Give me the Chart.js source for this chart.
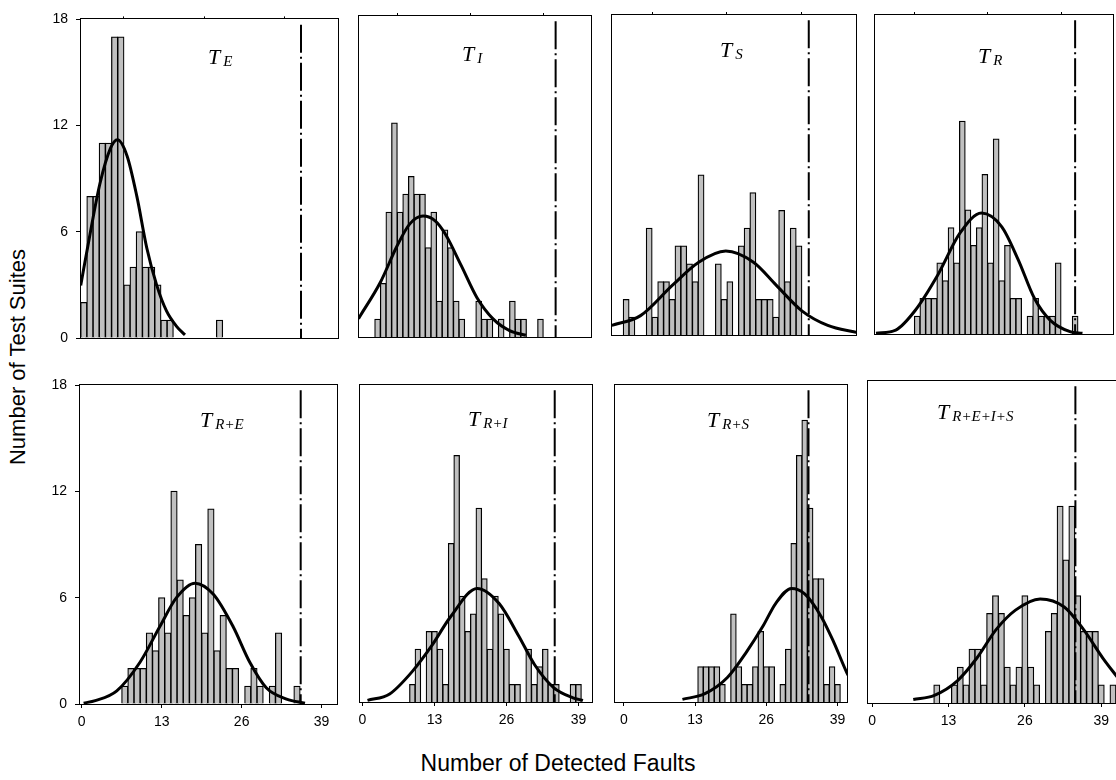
<!DOCTYPE html>
<html lang="en">
<head>
<meta charset="utf-8">
<title>Detected faults per test suite</title>
<script src="https://cdn.jsdelivr.net/npm/chart.js@4.4.1/dist/chart.umd.min.js"></script>
<style>
  html, body { margin: 0; padding: 0; background: #fff; }
  #figure {
    position: relative; width: 1116px; height: 780px; overflow: hidden;
    font-family: Arial, "Liberation Sans", Helvetica, sans-serif; color: #000;
  }
  #figure canvas { position: absolute; }
  .tag {
    position: absolute; white-space: nowrap; line-height: 1;
    font-family: "Liberation Serif", "Times New Roman", serif;
    font-style: italic; font-size: 22px;
  }
  .tag span { font-size: 15px; position: relative; top: 2px; margin-left: 3px; }
  .axis-title { position: absolute; white-space: nowrap; line-height: 1; }
  #ytitle { left: 18px; top: 357px; font-size: 22px; transform: translate(-50%, -50%) rotate(-90deg); }
  #xtitle { left: 558px; top: 763px; font-size: 23px; transform: translate(-50%, -50%); }
</style>
</head>
<body>
<div id="figure">
  <div class="axis-title" id="ytitle">Number of Test Suites</div>
  <div class="axis-title" id="xtitle">Number of Detected Faults</div>
</div>

<script>
/* ─── Data ───────────────────────────────────────────────────────────────── */
const suiteNames = ['E', 'I', 'S', 'R', 'R+E', 'R+I', 'R+S', 'R+E+I+S'];

// fault count of the first bin in each histogram, bins step by one fault
const firstBin = [0, 3, 2, 7, 7, 9, 14, 11];

const countsE    = [2, 8, 8, 11, 11, 17, 17, 3, 4, 6, 4, 4, 3, 1, 1, 0, 0, 0, 0, 0, 0, 0, 1];
const countsI    = [1, 3, 7, 12, 7, 8, 9, 8, 8, 5, 7, 2, 6, 5, 2, 1, 0, 0, 2, 1, 1, 0, 1, 0, 2, 1, 1, 0, 0, 1];
const countsS    = [2, 1, 0, 0, 6, 1, 3, 3, 2, 5, 5, 4, 3, 9, 0, 0, 4, 2, 3, 0, 5, 6, 8, 2, 2, 2, 1, 7, 3, 6, 5];
const countsR    = [1, 2, 2, 2, 4, 3, 6, 4, 12, 7, 5, 6, 9, 4, 11, 3, 5, 2, 2, 0, 1, 2, 1, 1, 1, 4, 0, 0, 1];
const countsRE   = [1, 2, 2, 2, 4, 3, 6, 4, 12, 7, 5, 6, 9, 4, 11, 3, 5, 2, 2, 0, 1, 2, 1, 0, 1, 4, 0, 0, 1];
const countsRI   = [1, 3, 0, 4, 4, 3, 1, 9, 14, 6, 4, 5, 11, 7, 3, 6, 5, 3, 1, 1, 0, 3, 1, 2, 3, 1, 1, 0, 0, 1, 1];
const countsRS   = [2, 2, 2, 2, 1, 0, 5, 2, 1, 1, 2, 4, 2, 2, 0, 1, 3, 9, 14, 16, 11, 7, 7, 1, 2, 1];
const countsREIS = [1, 0, 0, 1, 2, 1, 3, 3, 1, 5, 6, 5, 2, 1, 2, 6, 2, 1, 0, 4, 5, 11, 8, 11, 6, 4, 4, 4, 1, 0, 1];
const histCounts = [countsE, countsI, countsS, countsR, countsRE, countsRI, countsRS, countsREIS];

// normal curves, [faults, suites] points
const curveE    = [[-0.5, 2.97], [1.0, 5.85], [2.6, 8.7], [4.3, 10.7], [5.45, 11.2], [7.0, 10.3], [8.6, 8.0],
                   [10.2, 5.1], [11.8, 3.0], [13.4, 1.53], [15.1, 0.63], [16.4, 0.18]];
const curveI    = [[-0.4, 1.03], [3.5, 3.07], [6.4, 5.06], [8.7, 6.33], [11.1, 6.78], [13.3, 6.5], [15.0, 5.8],
                   [17.9, 4.0], [20.7, 2.2], [23.6, 1.0], [26.5, 0.36], [29.4, 0.1]];
const curveS    = [[-0.5, 0.54], [4.5, 1.09], [10.1, 2.82], [14.6, 4.09], [19.3, 4.72], [24.1, 4.09], [28.0, 2.82],
                   [32.5, 1.36], [37.0, 0.54], [41.5, 0.18], [42.5, 0.12]];
const curveR    = [[-0.3, 0.04], [3.2, 0.22], [6.6, 1.31], [10.6, 3.3], [14.6, 5.7], [18.4, 6.83], [22.0, 6.05],
                   [24.9, 4.2], [27.8, 2.0], [30.6, 0.77], [34.1, 0.13], [36.3, 0.04]];
const curveRE   = [[0.3, 0.05], [2.2, 0.19], [5.7, 0.74], [9.5, 2.37], [12.7, 4.37], [15.4, 6.0], [18.4, 6.82],
                   [21.4, 6.19], [24.6, 4.37], [27.3, 2.37], [30.0, 0.92], [33.3, 0.28], [36.3, 0.05]];
const curveRI   = [[0.9, 0.09], [4.9, 0.46], [9.0, 1.74], [12.5, 3.2], [15.9, 4.84], [20.7, 6.45], [24.7, 5.58],
                   [28.2, 3.75], [31.1, 2.1], [34.5, 0.82], [38.0, 0.24], [39.8, 0.09]];
const curveRS   = [[10.7, 0.15], [14.8, 0.47], [18.9, 1.39], [22.4, 2.85], [25.4, 4.31], [27.7, 5.59], [30.6, 6.45],
                   [33.0, 6.14], [36.0, 4.86], [38.3, 3.4], [40.7, 1.66], [41.5, 1.2]];
const curveREIS = [[7.0, 0.2], [10.6, 0.43], [14.5, 1.24], [17.8, 2.5], [21.1, 4.1], [24.4, 5.19], [28.6, 5.82],
                   [32.7, 5.37], [36.0, 4.1], [39.3, 2.5], [41.8, 1.42]];
const curves = [curveE, curveI, curveS, curveR, curveRE, curveRI, curveRS, curveREIS];

// dash-dot reference line of each panel (faults), and where it starts (suites)
const cutoff    = [35.2, 34.7, 33.7, 35.0, 35.6, 34.7, 33.7, 34.6];
const cutoffTop = 17.7;

const faultTicks = [0, 13, 26, 39];
const suiteTicks = [0, 6, 12, 18];

/* ─── Panel placement (page px) ──────────────────────────────────────────── */
// box = plot frame [l, t, r, b]; x0 = pixel of 0 faults; u = px per fault; tag = T label [left, cap top]
const panels = [
  { box: [81, 15, 338, 348],   x0: 83.8,  u: 6.17, tag: [208, 50] },
  { box: [351, 16, 591, 347],  x0: 352.8, u: 5.81, tag: [462, 47] },
  { box: [604, 15, 856, 345],  x0: 606.7, u: 5.95, tag: [720, 43] },
  { box: [867, 15, 1113, 344], x0: 869.8, u: 5.83, tag: [978, 49] },
  { box: [80, 373, 337, 704],  x0: 81.75, u: 6.15, tag: [200, 413] },
  { box: [352, 373, 592, 702], x0: 354.6, u: 5.73, tag: [468, 412] },
  { box: [607, 373, 847, 702], x0: 616.1, u: 5.67, tag: [707, 413] },
  { box: [860, 369, 1120, 703], x0: 864.3, u: 6.06, tag: [937, 405] }
];

const PAD    = { l: 8, t: 12, r: 6, b: 10 };
const AXIS_W = 46;   // room for the suite labels, left column
const AXIS_H = 36;   // room for the fault labels, bottom row

Chart.defaults.font.family = 'Arial, "Liberation Sans", Helvetica, sans-serif';
Chart.defaults.color = '#000';

/* ─── Frame round each plot ──────────────────────────────────────────────── */
const framePlugin = {
  id: 'frame',
  afterDatasetsDraw(chart) {
    const { ctx, chartArea: a } = chart;
    ctx.save();
    ctx.strokeStyle = '#000';
    ctx.lineWidth = 1;
    ctx.strokeRect(Math.round(a.left) - 0.5, Math.round(a.top) - 0.5,
                   Math.round(a.right - a.left) + 1, Math.round(a.bottom - a.top) + 1);
    ctx.restore();
  }
};

/* ─── Build panels ───────────────────────────────────────────────────────── */
const fig = document.getElementById('figure');

panels.forEach((p, i) => {
  const col = i % 4;
  const row = Math.floor(i / 4);
  const [l, t, r, b] = p.box;
  const padL = col === 0 ? AXIS_W : PAD.l;
  const padB = row === 1 ? AXIS_H : PAD.b;

  const canvas = document.createElement('canvas');
  canvas.width  = r - l + padL + PAD.r;
  canvas.height = b - t + PAD.t + padB;
  canvas.style.left = (l - padL) + 'px';
  canvas.style.top  = (t - PAD.t) + 'px';
  fig.appendChild(canvas);

  const tag = document.createElement('div');
  tag.className = 'tag';
  tag.style.left = p.tag[0] + 'px';
  tag.style.top  = (p.tag[1] - 4) + 'px';
  tag.innerHTML = `T<span>${suiteNames[i]}</span>`;
  fig.appendChild(tag);

  const xMin = (l - p.x0) / p.u;
  const xMax = (r - p.x0) / p.u;
  const inRange = faultTicks.filter(v => v >= xMin && v <= xMax);
  const first = firstBin[i];

  new Chart(canvas, {
    type: 'bar',
    data: {
      datasets: [
        {
          type:        'line',
          data:        [{ x: cutoff[i], y: cutoffTop }, { x: cutoff[i], y: 0 }],
          borderColor: '#000',
          borderWidth: 2,
          borderDash:  [28, 4, 2, 4],
          pointRadius: 0,
          clip:        0
        },
        {
          type:        'line',
          data:        curves[i].map(([x, y]) => ({ x, y })),
          borderColor: '#000',
          borderWidth: 3,
          pointRadius: 0,
          cubicInterpolationMode: 'monotone',
          clip:        0
        },
        {
          type:            'bar',
          data:            histCounts[i].map((c, k) => ({ x: first + k, y: c })),
          backgroundColor: '#c0c0c0',
          borderColor:     '#000',
          borderWidth:     1.25,
          borderSkipped:   'start',
          inflateAmount:   0.5,
          barPercentage:   1,
          categoryPercentage: 1
        }
      ]
    },
    options: {
      responsive: false,
      animation:  false,
      events:     [],
      layout: {
        autoPadding: false,
        padding: {
          left:   col === 0 ? 0 : padL,
          top:    row === 0 ? 0 : PAD.t,
          right:  PAD.r,
          bottom: row === 1 ? 0 : padB
        }
      },
      plugins: { legend: { display: false }, tooltip: { enabled: false } },
      scales: {
        x: {
          type: 'linear', position: 'bottom', min: xMin, max: xMax, offset: false,
          display: row === 1,
          afterBuildTicks: s => { s.ticks = inRange.map(v => ({ value: v })); },
          afterFit:        s => { s.height = padB; },
          grid:   { drawOnChartArea: false, tickLength: 4, color: '#000', offset: false },
          border: { display: false },
          ticks:  { padding: 6, font: { size: 14 }, maxRotation: 0, autoSkip: false }
        },
        xt: {
          type: 'linear', position: 'top', min: xMin, max: xMax, offset: false,
          display: row === 0,
          afterBuildTicks: s => { s.ticks = inRange.map(v => ({ value: v })); },
          afterFit:        s => { s.height = PAD.t; },
          grid:   { drawOnChartArea: false, tickLength: 3, color: '#000' },
          border: { display: false },
          ticks:  { display: false }
        },
        y: {
          type: 'linear', min: 0, max: 18,
          display: col === 0,
          afterBuildTicks: s => { s.ticks = suiteTicks.map(v => ({ value: v })); },
          afterFit:        s => { s.width = padL; },
          grid:   { drawOnChartArea: false, tickLength: 5, color: '#000' },
          border: { display: false },
          ticks:  { padding: 8, font: { size: 14 } }
        }
      }
    },
    plugins: [framePlugin]
  });
});
</script>
</body>
</html>
